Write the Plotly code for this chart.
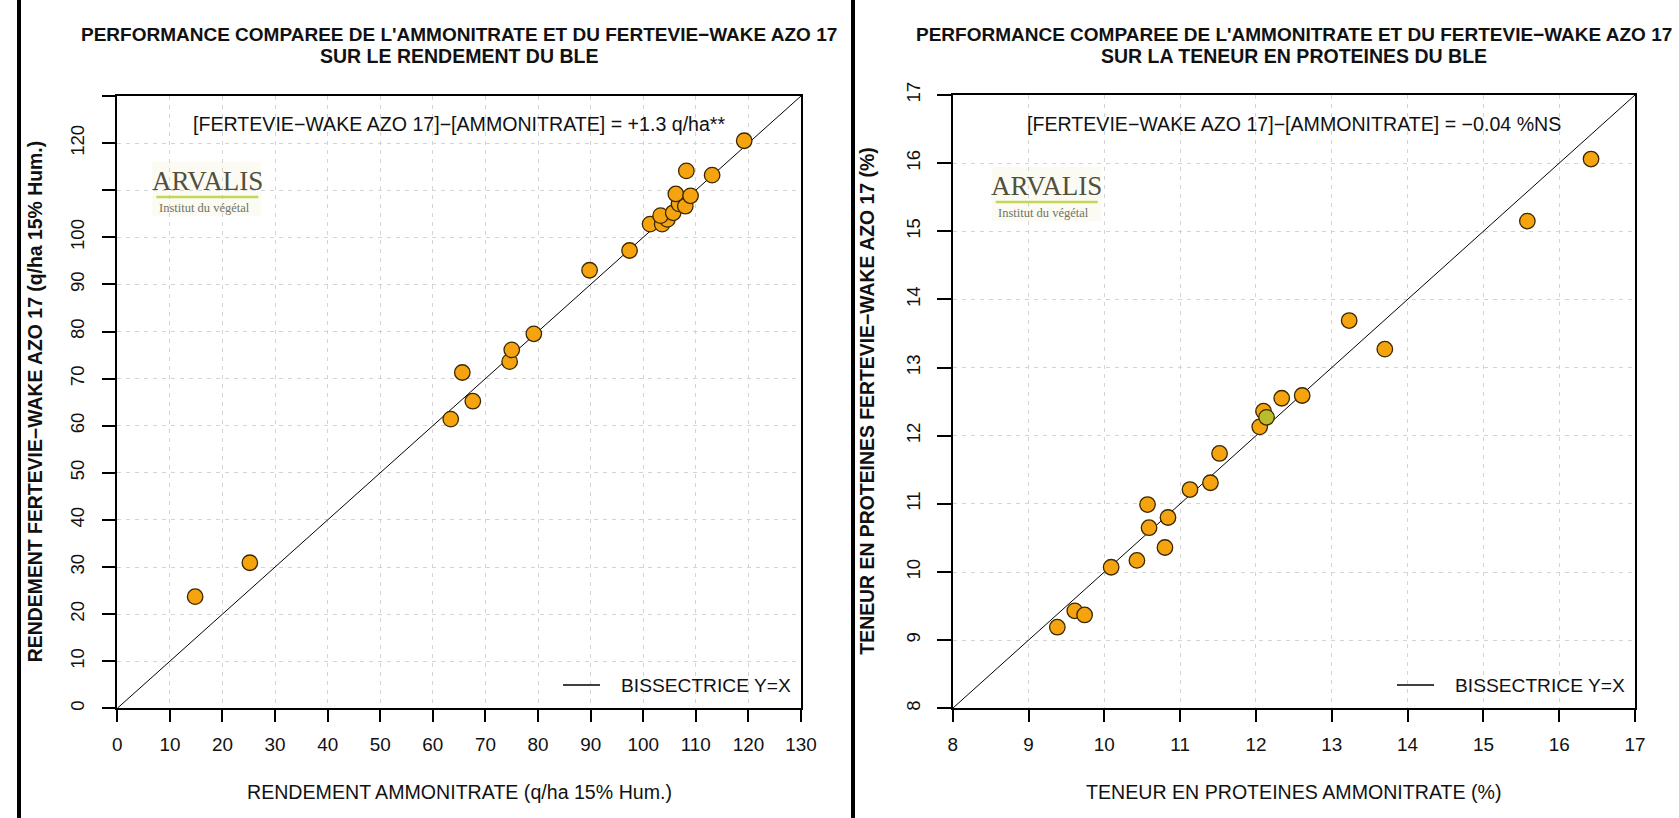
import plotly.graph_objects as go

W, H = 1679, 818

# ---------------- data ----------------
# Left chart: yield (q/ha 15% Hum.)
rdt_ammonitrate = [14.8, 25.2, 63.4, 65.6, 67.6, 74.6, 75.0, 79.2, 89.8, 97.4, 101.3,
                   103.6, 104.6, 103.3, 105.7, 106.8, 108.0, 106.2, 109.0, 108.2, 113.1, 119.2]
rdt_fertevie = [23.7, 30.9, 61.4, 71.3, 65.2, 73.6, 76.1, 79.5, 93.0, 97.2, 102.8,
                102.8, 103.8, 104.6, 105.2, 107.1, 106.6, 109.2, 108.8, 114.1, 113.2, 120.5]

# Right chart: protein content (%)
prot_ammonitrate = [9.38, 9.61, 9.74, 10.09, 10.43, 10.59, 10.57, 10.80, 10.84, 11.13,
                    11.40, 11.52, 12.05, 12.10, 12.14, 12.34, 12.61, 13.23, 13.70, 15.58, 16.42]
prot_fertevie = [9.19, 9.43, 9.37, 10.07, 10.17, 10.65, 10.99, 10.36, 10.80, 11.21,
                 11.31, 11.74, 12.13, 12.36, 12.27, 12.55, 12.59, 13.69, 13.27, 15.15, 16.06]
prot_colors = ["orange"] * 14 + ["green"] + ["orange"] * 6

rdt_ticks = list(range(0, 131, 10))
rdt_ytick_text = ["" if v in (110, 130) else str(v) for v in rdt_ticks]
prot_ticks = list(range(8, 18))

title_left = ["PERFORMANCE COMPAREE DE L'AMMONITRATE ET DU FERTEVIE\u2212WAKE AZO 17",
              "SUR LE RENDEMENT DU BLE"]
title_right = ["PERFORMANCE COMPAREE DE L'AMMONITRATE ET DU FERTEVIE\u2212WAKE AZO 17",
               "SUR LA TENEUR EN PROTEINES DU BLE"]
diff_left = "[FERTEVIE\u2212WAKE AZO 17]\u2212[AMMONITRATE] = +1.3 q/ha**"
diff_right = "[FERTEVIE\u2212WAKE AZO 17]\u2212[AMMONITRATE] = \u22120.04 %NS"
xlab_left = "RENDEMENT AMMONITRATE (q/ha 15% Hum.)"
ylab_left = "RENDEMENT FERTEVIE\u2212WAKE AZO 17 (q/ha 15% Hum.)"
xlab_right = "TENEUR EN PROTEINES AMMONITRATE (%)"
ylab_right = "TENEUR EN PROTEINES FERTEVIE\u2212WAKE AZO 17 (%)"
legend_label = "BISSECTRICE Y=X"

# ---------------- styling ----------------
SANS = "Liberation Sans, Arial, sans-serif"
SERIF = "Liberation Serif, Times New Roman, serif"
FILL = {"orange": "#F5A30E", "green": "#B9BC2C"}
EDGE = "#3a2800"


def px(x):
    return x / W


def py(y):
    return 1 - y / H


# plot rectangles in pixels (left, top, right, bottom)
L_BOX = (117.3, 96.0, 801.0, 708.3)
R_BOX = (952.7, 95.0, 1635.0, 708.3)

fig = go.Figure()

# diagonal y = x lines
fig.add_trace(go.Scatter(x=[0, 130], y=[0, 130], mode="lines",
                         line=dict(color="black", width=1), showlegend=False,
                         xaxis="x", yaxis="y", hoverinfo="skip"))
fig.add_trace(go.Scatter(x=[8, 17], y=[8, 17], mode="lines",
                         line=dict(color="black", width=1), showlegend=False,
                         xaxis="x2", yaxis="y2", hoverinfo="skip"))

marker_common = dict(size=15.5, line=dict(color=EDGE, width=1.3))
fig.add_trace(go.Scatter(x=rdt_ammonitrate, y=rdt_fertevie, mode="markers",
                         marker=dict(color=FILL["orange"], **marker_common),
                         showlegend=False, xaxis="x", yaxis="y"))
fig.add_trace(go.Scatter(x=prot_ammonitrate, y=prot_fertevie, mode="markers",
                         marker=dict(color=[FILL[c] for c in prot_colors], **marker_common),
                         showlegend=False, xaxis="x2", yaxis="y2"))


def axis(domain, rng, ticks, ticktext, is_y, anchor):
    d = dict(domain=domain, range=rng, tickmode="array", tickvals=ticks,
             ticktext=ticktext, showline=True, mirror=True, linecolor="black",
             linewidth=1.5, ticks="outside", tickcolor="black", tickwidth=1.5,
             showgrid=True, gridcolor="#d4d4d4", gridwidth=1, griddash="4px,5px",
             zeroline=False, anchor=anchor, fixedrange=True, automargin=False)
    if is_y:
        d.update(ticklen=14, tickangle=-90,
                 tickfont=dict(family=SANS, size=18.6, color="#111"),
                 ticklabelstandoff=10)
    else:
        d.update(ticklen=12, tickfont=dict(family=SANS, size=18.9, color="#111"),
                 ticklabelstandoff=6)
    return d


fig.update_layout(
    width=W, height=H, margin=dict(l=0, r=0, t=0, b=0, autoexpand=False),
    paper_bgcolor="white", plot_bgcolor="white",
    xaxis=axis([px(L_BOX[0]), px(L_BOX[2])], [0, 130], rdt_ticks,
               [str(v) for v in rdt_ticks], False, "y"),
    yaxis=axis([py(L_BOX[3]), py(L_BOX[1])], [0, 130], rdt_ticks,
               rdt_ytick_text, True, "x"),
    xaxis2=axis([px(R_BOX[0]), px(R_BOX[2])], [8, 17], prot_ticks,
                [str(v) for v in prot_ticks], False, "y2"),
    yaxis2=axis([py(R_BOX[3]), py(R_BOX[1])], [8, 17], prot_ticks,
                [str(v) for v in prot_ticks], True, "x2"),
    showlegend=False,
)

ann = []
shapes = []


def text(x, y, s, size, family=SANS, bold=False, angle=0, color="#111",
         xanchor="center"):
    ann.append(dict(x=px(x), y=py(y), xref="paper", yref="paper", text=s,
                    showarrow=False, textangle=angle, xanchor=xanchor,
                    yanchor="middle",
                    font=dict(family=family, size=size, color=color,
                              weight="bold" if bold else "normal")))


for box, titles, diff, xl, yl, ylx in [
        (L_BOX, title_left, diff_left, xlab_left, ylab_left, 35),
        (R_BOX, title_right, diff_right, xlab_right, ylab_right, 867)]:
    cx = (box[0] + box[2]) / 2
    cy = (box[1] + box[3]) / 2
    text(cx, 34, titles[0], 19, bold=True)
    text(cx, 56, titles[1], 19.5, bold=True)
    text(cx, 124, diff, 19.6)
    text(cx, 792, xl, 19.6)
    text(ylx, cy, yl, 19.4, bold=True, angle=-90)
    # legend (line sample + label) in the lower-right corner
    shapes.append(dict(type="line", xref="paper", yref="paper",
                       x0=px(box[2] - 238), x1=px(box[2] - 201),
                       y0=py(685), y1=py(685), line=dict(color="black", width=1.5)))
    text(box[2] - 8, 685, legend_label, 19.2, xanchor="right")
    # ARVALIS logo emulation
    lg_x = box[0] + 35 if box is L_BOX else box[0] + 39
    lg_y = 162 if box is L_BOX else 167
    shapes.append(dict(type="rect", xref="paper", yref="paper", layer="between",
                       x0=px(lg_x), x1=px(lg_x + 109), y0=py(lg_y + 54), y1=py(lg_y),
                       fillcolor="#fbfbf4", line=dict(width=0)))
    text(lg_x + 55, lg_y + 19, "ARVALIS", 27, family=SERIF, color="#50503c")
    shapes.append(dict(type="line", xref="paper", yref="paper",
                       x0=px(lg_x + 4), x1=px(lg_x + 106), y0=py(lg_y + 35), y1=py(lg_y + 35),
                       line=dict(color="#c4d65a", width=2.5)))
    text(lg_x + 52, lg_y + 46, "Institut du végétal", 12.5, family=SERIF, color="#727266")

# page borders (vertical black rules)
for xb in (19, 853):
    shapes.append(dict(type="line", xref="paper", yref="paper",
                       x0=px(xb), x1=px(xb), y0=0, y1=1,
                       line=dict(color="black", width=4)))

fig.update_layout(annotations=ann, shapes=shapes)
fig.write_html(
    "out.html",
    post_script="document.body.style.margin='0';"
                "document.documentElement.style.overflow='hidden';",
)
